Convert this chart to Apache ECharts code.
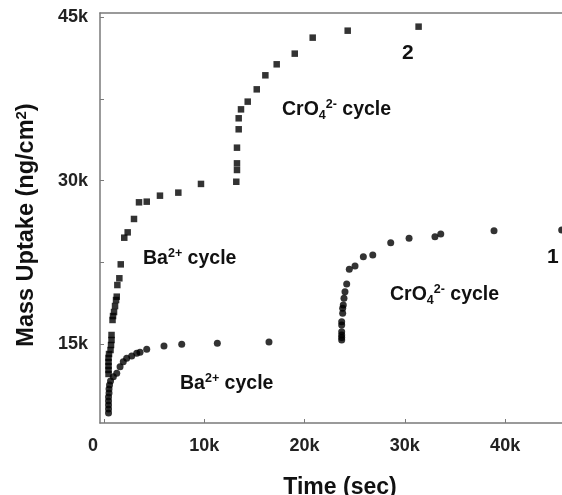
<!DOCTYPE html>
<html>
<head>
<meta charset="utf-8">
<script src="https://cdn.jsdelivr.net/npm/echarts@6/dist/echarts.min.js"></script>
<style>
html,body{margin:0;padding:0;background:#fff;}
#chart{width:562px;height:495px;}
</style>
</head>
<body>
<div id="chart"></div>
<script>
// Curve 2 (squares): time (s) and mass uptake (ng/cm2)
var curve2Time = [450,450,450,450,450,500,650,700,750,750,850,900,1000,1100,1200,1270,1330,1530,1670,2020,2360,2990,3490,4260,5580,7410,9670,13190,13260,13260,13260,13430,13430,13660,14330,15230,16090,17220,19020,20810,24300,31370];
var curve2Mass = [12240,12610,12970,13340,13710,14070,14440,14900,15360,15820,17200,17560,17930,18480,19030,19340,20410,21030,22310,24760,25250,26480,28010,28070,28620,28900,29700,29900,30980,31590,33030,34720,35730,36550,37260,38390,39680,40690,41670,43140,43780,44150];
// Curve 1 (circles)
var curve1Time = [450,450,450,450,450,500,500,550,650,930,1270,1600,1920,2260,2760,3260,3590,4260,5980,7750,11300,16450,
  23700,23700,23700,23700,23700,23700,23800,23800,23860,23930,24030,24200,24460,25030,25860,26800,28590,30420,33000,33580,38890,45640];
var curve1Mass = [8650,9020,9390,9760,10120,10490,10860,11230,11600,11990,12300,12910,13370,13680,13890,14140,14230,14500,14810,14960,15060,15180,
  15360,15600,15820,16120,16740,17040,17810,18270,18570,19190,19800,20500,21860,22160,23010,23170,24300,24700,24850,25100,25400,25470];
var xTickValues = [0,10000,20000,30000,40000];
var yTickValues = [15000,22500,30000,37500,45000];
var yLabelValues = [15000,30000,45000];

function pairs(xs, ys){ return xs.map(function(x,i){ return [x, ys[i]]; }); }

var FONT = "'Liberation Sans', Arial, sans-serif";
var chart = echarts.init(document.getElementById('chart'), null, {renderer:'canvas'});
var axisLineStyle = {color:'#7a7a7a', width:1.5};

function kfmt(v){ return v === 0 ? '{z|0}' : (v/1000) + 'k'; }

var ann = {
  b: {fontSize:19.5, fontWeight:'bold', fontFamily:FONT, color:'#111'},
  sup: {fontSize:12.5, fontWeight:'bold', fontFamily:FONT, color:'#111', padding:[0,0,11,0]},
  sub: {fontSize:12.5, fontWeight:'bold', fontFamily:FONT, color:'#111', padding:[11,0,0,0]}
};
function txt(x, y, text, size){
  return {type:'text', x:x, y:y, silent:true,
    style:{text:text, rich:ann, fontSize:size||19.5, fontWeight:'bold', fontFamily:FONT, fill:'#111', verticalAlign:'middle', align:'left'}};
}

chart.setOption({
  animation:false,
  backgroundColor:'#fff',
  grid:{left:100, right:0, top:13, bottom:72, containLabel:false, outerBoundsMode:'none'},
  xAxis:[{
    type:'value', min:-400, max:45670,
    name:'Time (sec)', nameLocation:'middle', nameGap:53,
    nameTextStyle:{fontSize:23, fontWeight:'bold', fontFamily:FONT, color:'#111', padding:[0,0,0,18]},
    axisLine:{show:true, onZero:false, lineStyle:axisLineStyle},
    axisTick:{show:true, inside:true, length:4, customValues:xTickValues, lineStyle:{color:'#7a7a7a'}},
    axisLabel:{customValues:xTickValues, formatter:kfmt, fontSize:18, fontWeight:'bold', fontFamily:FONT, color:'#222', margin:14,
      rich:{z:{fontSize:18, fontWeight:'bold', fontFamily:FONT, color:'#222', padding:[0,22,0,0]}}},
    splitLine:{show:false}
  },{
    type:'value', position:'top', min:-400, max:45670,
    axisLine:{show:true, onZero:false, lineStyle:axisLineStyle},
    axisTick:{show:false}, axisLabel:{show:false}, splitLine:{show:false}
  }],
  yAxis:{
    type:'value', min:7734, max:45404,
    name:'Mass Uptake (ng/cm{sup|2})', nameLocation:'middle', nameGap:60,
    nameTextStyle:{fontSize:23.5, fontWeight:'bold', fontFamily:FONT, color:'#111', padding:[0,14,0,0],
      rich:{sup:{fontSize:15, fontWeight:'bold', fontFamily:FONT, color:'#111', padding:[0,0,11,0]}}},
    axisLine:{show:true, onZero:false, lineStyle:axisLineStyle},
    axisTick:{show:true, inside:true, length:4, customValues:yTickValues, lineStyle:{color:'#7a7a7a'}},
    axisLabel:{customValues:yLabelValues, formatter:function(v){return (v/1000)+'k';}, fontSize:18, fontWeight:'bold', fontFamily:FONT, color:'#222', margin:12},
    splitLine:{show:false}
  },
  series:[{
    type:'scatter', name:'2', symbol:'rect', symbolSize:6.5,
    itemStyle:{color:'#000'}, data:pairs(curve2Time, curve2Mass)
  },{
    type:'scatter', name:'1', symbol:'circle', symbolSize:7,
    itemStyle:{color:'#000'}, data:pairs(curve1Time, curve1Mass)
  }],
  graphic:[
    txt(402, 53, '2', 21),
    txt(547, 257, '1', 21),
    txt(282, 110, '{b|CrO}{sub|4}{sup|2-}{b| cycle}'),
    txt(390, 295, '{b|CrO}{sub|4}{sup|2-}{b| cycle}'),
    txt(143, 259, '{b|Ba}{sup|2+}{b| cycle}'),
    txt(180, 384, '{b|Ba}{sup|2+}{b| cycle}')
  ]
});
</script>
</body>
</html>
